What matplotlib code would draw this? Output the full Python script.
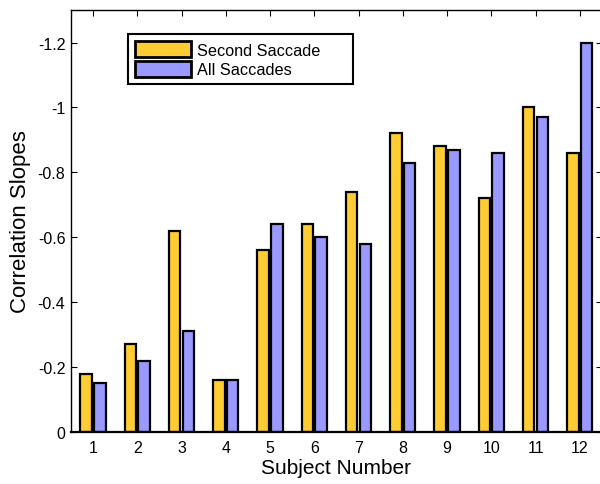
import matplotlib
matplotlib.use("Agg")
import matplotlib.pyplot as plt
import numpy as np

subjects = [1, 2, 3, 4, 5, 6, 7, 8, 9, 10, 11, 12]
second_saccade = [-0.18, -0.27, -0.62, -0.16, -0.56, -0.64, -0.74, -0.92, -0.88, -0.72, -1.00, -0.86]
all_saccades = [-0.15, -0.22, -0.31, -0.16, -0.64, -0.60, -0.58, -0.83, -0.87, -0.86, -0.97, -1.20]
y_ticks = [0, -0.2, -0.4, -0.6, -0.8, -1.0, -1.2]
y_tick_labels = ["0", "-0.2", "-0.4", "-0.6", "-0.8", "-1", "-1.2"]

plt.rcParams['font.family'] = ['Liberation Sans', 'DejaVu Sans']

fig = plt.figure(figsize=(6, 4.85), dpi=100)
ax = fig.add_axes([0.1183, 0.1072, 0.885, 0.870])

x = np.array(subjects, dtype=float)
w = 0.26
ax.bar(x - 0.155, second_saccade, width=w, color='#FFCC33', edgecolor='black',
       linewidth=1.6, label='Second Saccade', zorder=2)
ax.bar(x + 0.155, all_saccades, width=w, color='#9999FF', edgecolor='black',
       linewidth=1.6, label='All Saccades', zorder=2)

ax.set_xlim(0.5, 12.5)
ax.set_ylim(0, -1.3)
ax.set_xticks(subjects)
ax.set_xticklabels([str(s) for s in subjects])
ax.set_yticks(y_ticks)
ax.set_yticklabels(y_tick_labels)

ax.tick_params(axis='both', which='both', direction='in', length=4, width=0.8,
               top=True, right=True, labelsize=11.5, colors='black')
ax.tick_params(axis='y', pad=4)
ax.tick_params(axis='x', pad=6)
for s in ax.spines.values():
    s.set_linewidth(1.0)
ax.spines['bottom'].set_linewidth(1.6)

ax.set_xlabel('Subject Number', fontsize=15, labelpad=2)
ax.set_ylabel('Correlation Slopes', fontsize=16, labelpad=5)

leg = ax.legend(loc='upper left', bbox_to_anchor=(0.1073, 0.825, 0.424, 0.118),
                mode='expand', borderaxespad=0,
                fontsize=11.7, handlelength=3.45, handleheight=1.15, handletextpad=0.4,
                labelspacing=0.2, borderpad=0.42, fancybox=False, framealpha=1,
                edgecolor='black')
leg.get_frame().set_linewidth(1.5)
for h in leg.legend_handles:
    h.set_linewidth(2.0)

fig.savefig('out.png', dpi=100)
